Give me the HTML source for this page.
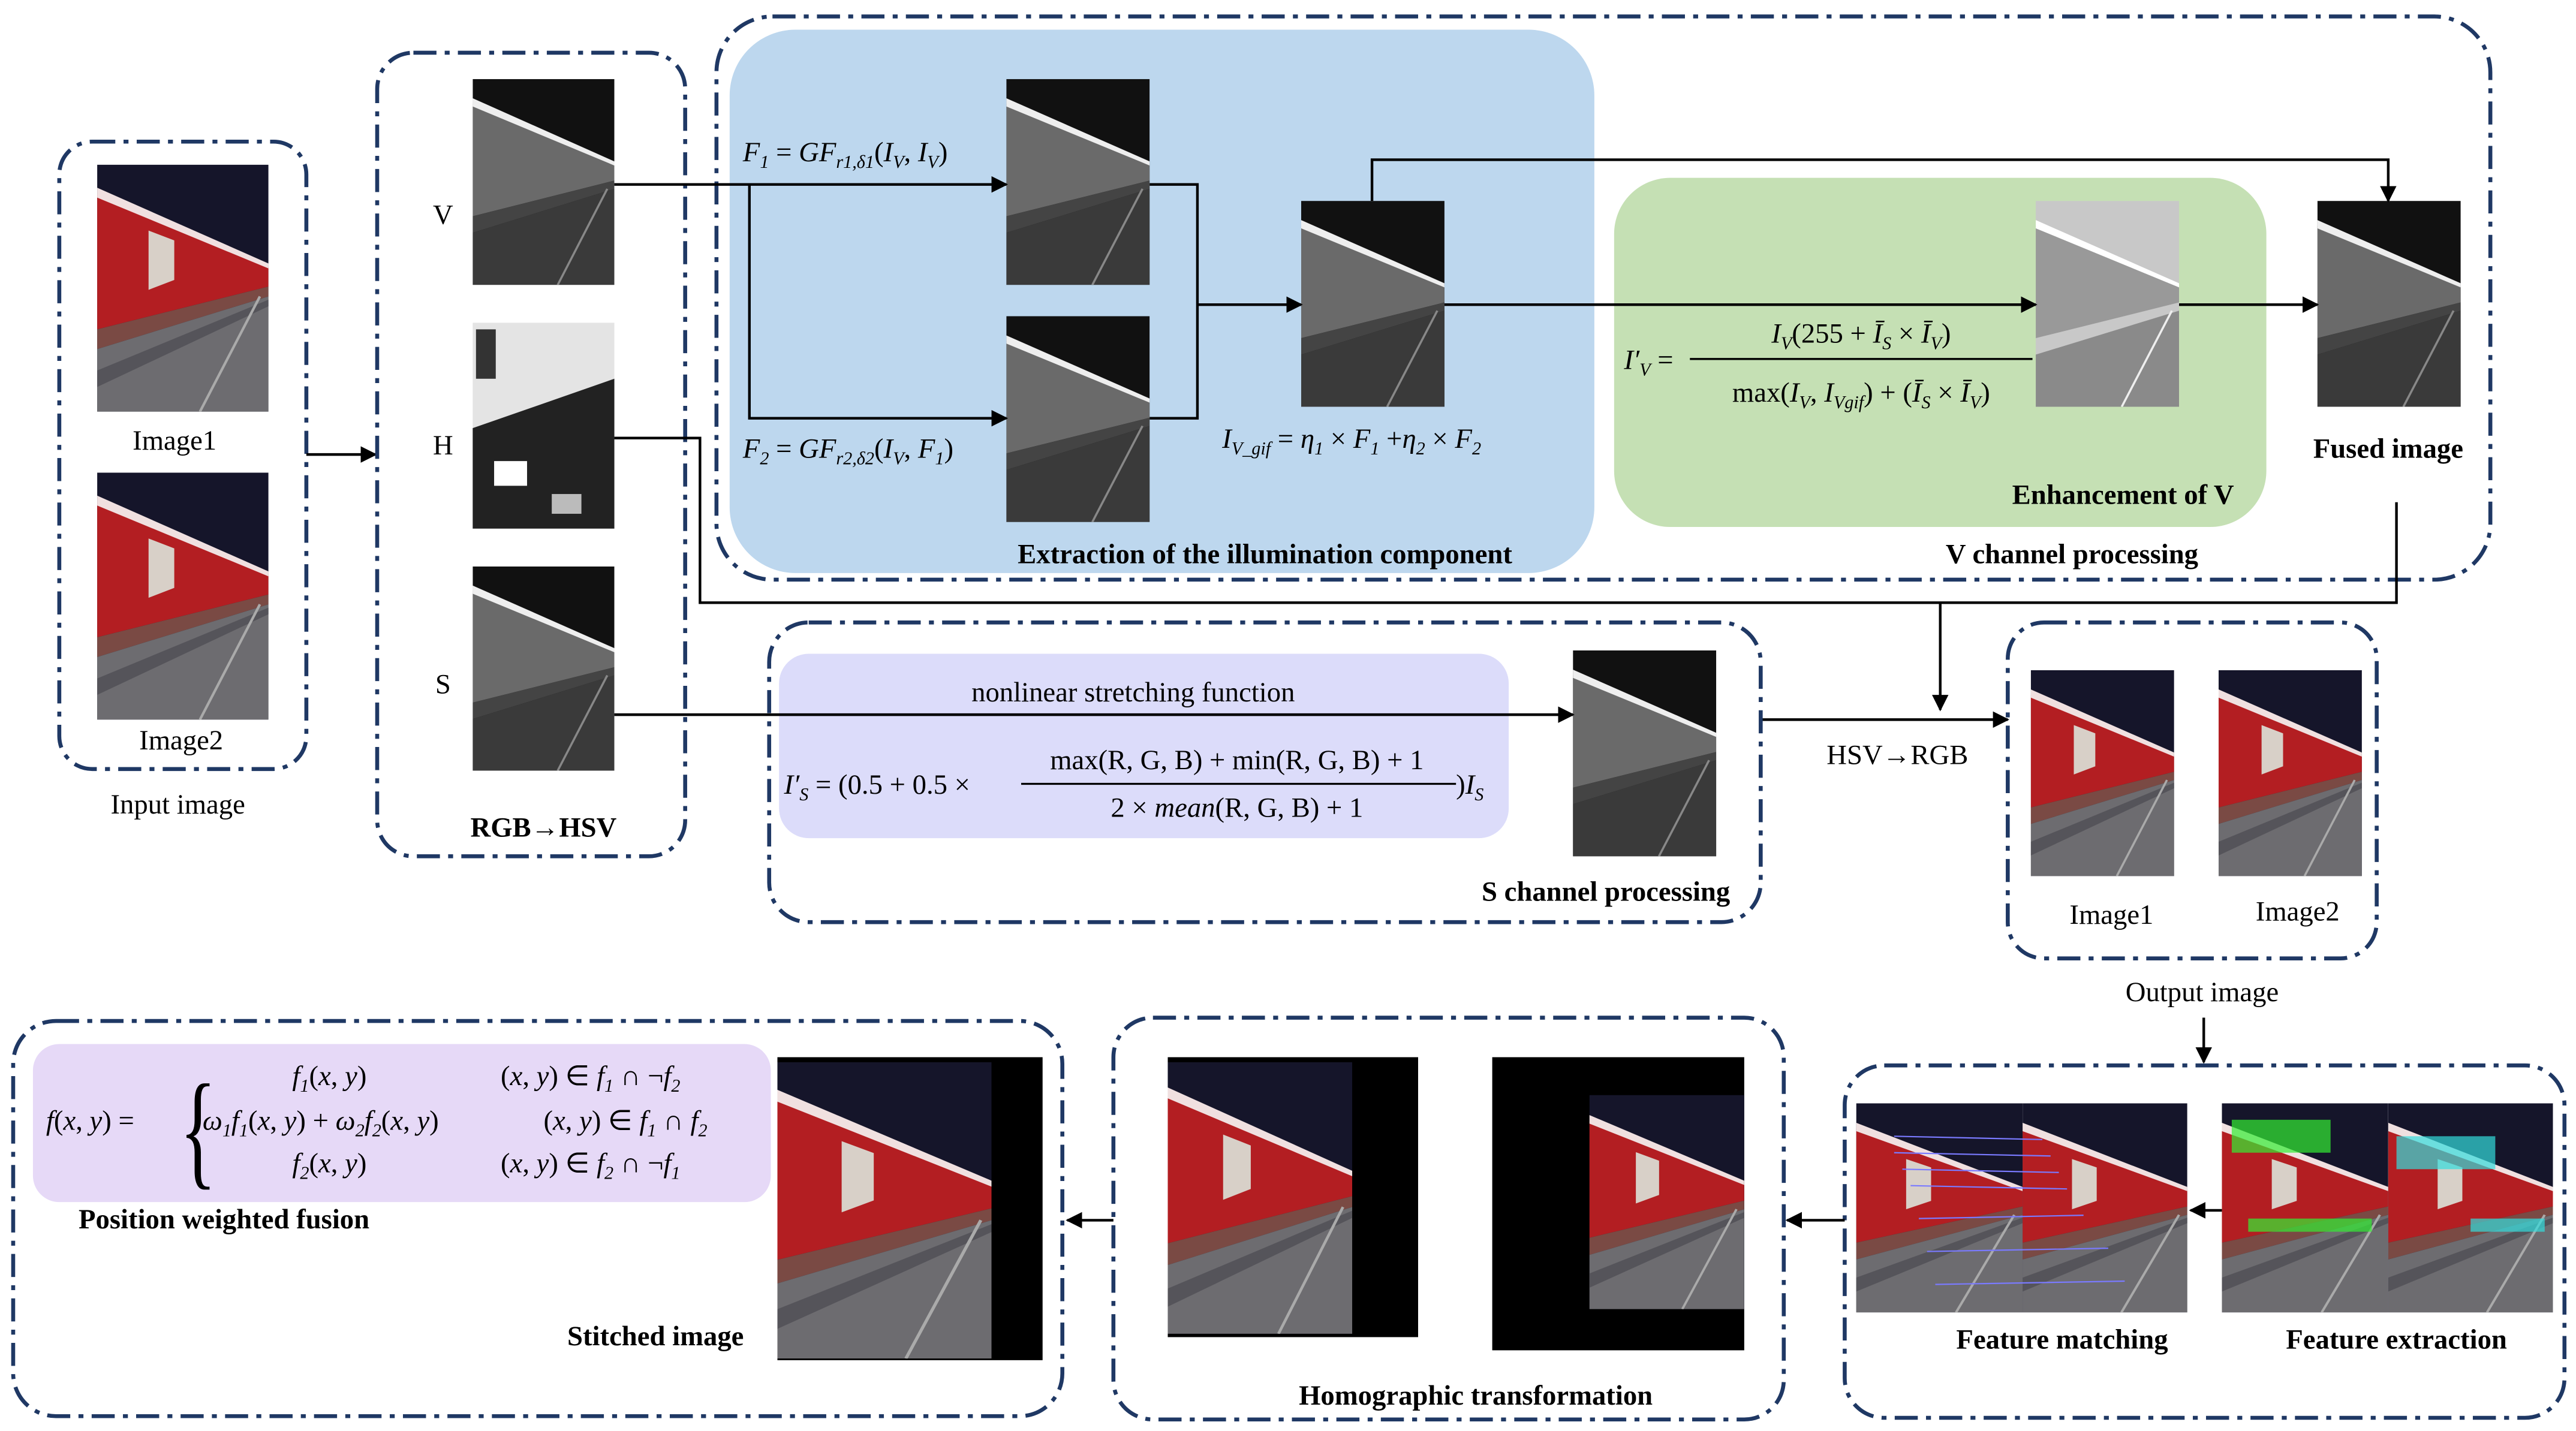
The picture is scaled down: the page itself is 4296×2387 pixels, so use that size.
<!DOCTYPE html>
<html><head><meta charset="utf-8"><style>
html,body{margin:0;padding:0;background:#fff}
svg{display:block}
text{font-family:"Liberation Serif",serif;fill:#000}
.b{font-weight:bold;font-size:17px}
.l{font-size:17px}
.m{font-size:17px;font-style:italic}
.box{fill:none;stroke:#1f3864;stroke-width:2.4;stroke-dasharray:14 5 3 5}
.ln{stroke:#000;stroke-width:1.6;fill:none}
</style></head><body>
<svg width="4296" height="2387" viewBox="0 0 1564 869" xmlns="http://www.w3.org/2000/svg">
<defs>
<marker id="a" markerWidth="10" markerHeight="10" refX="9" refY="5" orient="auto" markerUnits="userSpaceOnUse"><path d="M0,0 L10,5 L0,10 z" fill="#000"/></marker>
<symbol id="col" viewBox="0 0 100 150" preserveAspectRatio="none">
<rect width="100" height="150" fill="#15152a"/>
<polygon points="0,18 100,62 100,74 0,100" fill="#b31e22"/>
<polygon points="0,14 100,60 100,63 0,20" fill="#f0e0e0"/>
<polygon points="30,40 45,46 45,70 30,76" fill="#d8d0c8"/>
<polygon points="0,100 100,74 100,80 0,112" fill="#7a4a44"/>
<polygon points="0,112 100,80 100,150 0,150" fill="#6d6c70"/>
<polygon points="0,125 100,82 100,86 0,135" fill="#55545a"/>
<line x1="60" y1="150" x2="95" y2="80" stroke="#aaa" stroke-width="1.5"/>
</symbol>
<symbol id="gray" viewBox="0 0 100 150" preserveAspectRatio="none">
<rect width="100" height="150" fill="#111"/>
<polygon points="0,18 100,62 100,74 0,100" fill="#6a6a6a"/>
<polygon points="0,14 100,60 100,63 0,20" fill="#eee"/>
<polygon points="0,100 100,74 100,80 0,112" fill="#444"/>
<polygon points="0,112 100,80 100,150 0,150" fill="#3a3a3a"/>
<line x1="60" y1="150" x2="95" y2="80" stroke="#888" stroke-width="1.5"/>
</symbol>
<symbol id="light" viewBox="0 0 100 150" preserveAspectRatio="none">
<rect width="100" height="150" fill="#c8c8c8"/>
<polygon points="0,18 100,62 100,74 0,100" fill="#999"/>
<polygon points="0,14 100,60 100,63 0,20" fill="#fff"/>
<polygon points="0,112 100,80 100,150 0,150" fill="#8a8a8a"/>
<line x1="60" y1="150" x2="95" y2="80" stroke="#eee" stroke-width="1.5"/>
</symbol>
</defs>

<!-- Input -->
<rect class="box" x="36" y="86" width="150" height="381" rx="20"/>
<use href="#col" x="59" y="100" width="104" height="150"/>
<use href="#col" x="59" y="287" width="104" height="150"/>
<text class="l" x="106" y="273" text-anchor="middle">Image1</text>
<text class="l" x="110" y="455" text-anchor="middle">Image2</text>
<text class="l" x="108" y="494" text-anchor="middle">Input image</text>
<line class="ln" x1="186" y1="276" x2="228" y2="276" marker-end="url(#a)"/>

<!-- RGB->HSV -->
<rect class="box" x="229" y="32" width="187" height="488" rx="22"/>
<use href="#gray" x="287" y="48" width="86" height="125"/>
<rect x="287" y="196" width="86" height="125" fill="#e4e4e4"/>
<polygon points="287,260 373,230 373,321 287,321" fill="#222"/>
<rect x="300" y="280" width="20" height="15" fill="#fff"/><rect x="335" y="300" width="18" height="12" fill="#bbb"/><rect x="289" y="200" width="12" height="30" fill="#333"/>
<use href="#gray" x="287" y="344" width="86" height="124"/>
<text class="l" x="269" y="136" text-anchor="middle">V</text>
<text class="l" x="269" y="276" text-anchor="middle">H</text>
<text class="l" x="269" y="421" text-anchor="middle">S</text>
<text class="b" x="330" y="508" text-anchor="middle">RGB→HSV</text>

<!-- V channel -->
<rect class="box" x="435" y="10" width="1077" height="342" rx="34"/>
<rect x="443" y="18" width="525" height="330" rx="40" fill="#bdd7ee"/>
<rect x="980" y="108" width="396" height="212" rx="34" fill="#c5e0b4"/>
<use href="#gray" x="611" y="48" width="87" height="125"/>
<use href="#gray" x="611" y="192" width="87" height="125"/>
<use href="#gray" x="790" y="122" width="87" height="125"/>
<use href="#light" x="1236" y="122" width="87" height="125"/>
<use href="#gray" x="1407" y="122" width="87" height="125"/>
<line class="ln" x1="373" y1="112" x2="611" y2="112" marker-end="url(#a)"/>
<polyline class="ln" points="455,112 455,254 611,254" marker-end="url(#a)"/>
<polyline class="ln" points="698,112 727,112 727,254 698,254"/>
<line class="ln" x1="727" y1="185" x2="790" y2="185" marker-end="url(#a)"/>
<polyline class="ln" points="833,122 833,97 1450,97 1450,122" marker-end="url(#a)"/>
<line class="ln" x1="877" y1="185" x2="1236" y2="185" marker-end="url(#a)"/>
<line class="ln" x1="1323" y1="185" x2="1407" y2="185" marker-end="url(#a)"/>
<text class="m" x="451" y="98">F<tspan font-size="11" dy="4">1</tspan><tspan dy="-4" font-style="normal"> = </tspan>GF<tspan font-size="11" dy="4">r1,δ1</tspan><tspan dy="-4" font-style="normal">(</tspan>I<tspan font-size="11" dy="4">V</tspan><tspan dy="-4" font-style="normal">, </tspan>I<tspan font-size="11" dy="4">V</tspan><tspan dy="-4" font-style="normal">)</tspan></text>
<text class="m" x="451" y="278">F<tspan font-size="11" dy="4">2</tspan><tspan dy="-4" font-style="normal"> = </tspan>GF<tspan font-size="11" dy="4">r2,δ2</tspan><tspan dy="-4" font-style="normal">(</tspan>I<tspan font-size="11" dy="4">V</tspan><tspan dy="-4" font-style="normal">, </tspan>F<tspan font-size="11" dy="4">1</tspan><tspan dy="-4" font-style="normal">)</tspan></text>
<text class="m" x="742" y="272">I<tspan font-size="11" dy="4">V_gif</tspan><tspan dy="-4" font-style="normal"> = </tspan>η<tspan font-size="11" dy="4">1</tspan><tspan dy="-4" font-style="normal"> × </tspan>F<tspan font-size="11" dy="4">1</tspan><tspan dy="-4" font-style="normal"> +</tspan>η<tspan font-size="11" dy="4">2</tspan><tspan dy="-4" font-style="normal"> × </tspan>F<tspan font-size="11" dy="4">2</tspan></text>
<text class="b" x="768" y="342" text-anchor="middle">Extraction of the illumination component</text>
<text class="m" x="986" y="224">I′<tspan font-size="11" dy="4">V</tspan><tspan dy="-4" font-style="normal"> =</tspan></text>
<line x1="1026" y1="218" x2="1234" y2="218" stroke="#000" stroke-width="1.2"/>
<text class="m" x="1130" y="208" text-anchor="middle">I<tspan font-size="11" dy="4">V</tspan><tspan dy="-4" font-style="normal">(255 + </tspan>Ī<tspan font-size="11" dy="4">S</tspan><tspan dy="-4" font-style="normal"> × </tspan>Ī<tspan font-size="11" dy="4">V</tspan><tspan dy="-4" font-style="normal">)</tspan></text>
<text class="m" x="1130" y="244" text-anchor="middle"><tspan font-style="normal">max(</tspan>I<tspan font-size="11" dy="4">V</tspan><tspan dy="-4" font-style="normal">, </tspan>I<tspan font-size="11" dy="4">Vgif</tspan><tspan dy="-4" font-style="normal">) + (</tspan>Ī<tspan font-size="11" dy="4">S</tspan><tspan dy="-4" font-style="normal"> × </tspan>Ī<tspan font-size="11" dy="4">V</tspan><tspan dy="-4" font-style="normal">)</tspan></text>
<text class="b" x="1289" y="306" text-anchor="middle">Enhancement of V</text>
<text class="b" x="1258" y="342" text-anchor="middle">V channel processing</text>
<text class="b" x="1450" y="278" text-anchor="middle">Fused image</text>

<!-- H / fused join lines -->
<polyline class="ln" points="373,266 425,266 425,366 1455,366 1455,305"/>
<line class="ln" x1="1178" y1="366" x2="1178" y2="431" marker-end="url(#a)"/>
<line class="ln" x1="1070" y1="437" x2="1219" y2="437" marker-end="url(#a)"/>
<text class="l" x="1152" y="464" text-anchor="middle">HSV→RGB</text>

<!-- S channel -->
<rect class="box" x="467" y="378" width="602" height="182" rx="24"/>
<rect x="473" y="397" width="443" height="112" rx="18" fill="#dcdcfa"/>
<use href="#gray" x="955" y="395" width="87" height="125"/>
<line class="ln" x1="373" y1="434" x2="955" y2="434" marker-end="url(#a)"/>
<text class="l" x="688" y="426" text-anchor="middle">nonlinear stretching function</text>
<text class="m" x="476" y="482">I′<tspan font-size="11" dy="4">S</tspan><tspan dy="-4" font-style="normal"> = (0.5 + 0.5 ×</tspan></text>
<line x1="620" y1="476" x2="884" y2="476" stroke="#000" stroke-width="1.2"/>
<text class="l" x="751" y="467" text-anchor="middle">max(R, G, B) + min(R, G, B) + 1</text>
<text class="l" x="751" y="496" text-anchor="middle">2 × <tspan font-style="italic">mean</tspan>(R, G, B) + 1</text>
<text class="m" x="884" y="482"><tspan font-style="normal">)</tspan>I<tspan font-size="11" dy="4">S</tspan></text>
<text class="b" x="975" y="547" text-anchor="middle">S channel processing</text>

<!-- Output -->
<rect class="box" x="1219" y="378" width="224" height="204" rx="22"/>
<use href="#col" x="1233" y="407" width="87" height="125"/>
<use href="#col" x="1347" y="407" width="87" height="125"/>
<text class="l" x="1282" y="561" text-anchor="middle">Image1</text>
<text class="l" x="1395" y="559" text-anchor="middle">Image2</text>
<text class="l" x="1337" y="608" text-anchor="middle">Output image</text>
<line class="ln" x1="1338" y1="618" x2="1338" y2="645" marker-end="url(#a)"/>

<!-- Feature -->
<rect class="box" x="1120" y="647" width="437" height="214" rx="24"/>
<use href="#col" x="1127" y="670" width="101" height="127"/>
<use href="#col" x="1228" y="670" width="100" height="127"/>
<g stroke="#7a7aff" stroke-width="0.8">
<line x1="1150" y1="690" x2="1240" y2="692"/><line x1="1150" y1="700" x2="1245" y2="702"/><line x1="1155" y1="710" x2="1250" y2="712"/><line x1="1160" y1="720" x2="1255" y2="722"/><line x1="1165" y1="740" x2="1265" y2="738"/><line x1="1170" y1="760" x2="1280" y2="758"/><line x1="1175" y1="780" x2="1290" y2="778"/></g>
<use href="#col" x="1349" y="670" width="101" height="127"/>
<use href="#col" x="1450" y="670" width="100" height="127"/>
<g fill="#33ee33"><rect x="1355" y="680" width="60" height="20" opacity=".7"/><rect x="1365" y="740" width="75" height="8" opacity=".7"/></g>
<g fill="#33dddd"><rect x="1455" y="690" width="60" height="20" opacity=".7"/><rect x="1500" y="740" width="45" height="8" opacity=".7"/></g>
<line class="ln" x1="1349" y1="735" x2="1330" y2="735" marker-end="url(#a)"/>
<text class="b" x="1252" y="819" text-anchor="middle">Feature matching</text>
<text class="b" x="1455" y="819" text-anchor="middle">Feature extraction</text>
<line class="ln" x1="1120" y1="741" x2="1085" y2="741" marker-end="url(#a)"/>

<!-- Homographic -->
<rect class="box" x="676" y="618" width="407" height="244" rx="24"/>
<rect x="709" y="642" width="152" height="170" fill="#000"/>
<use href="#col" x="709" y="645" width="112" height="165"/>
<rect x="906" y="642" width="153" height="178" fill="#000"/>
<use href="#col" x="965" y="665" width="94" height="130"/>
<text class="b" x="896" y="853" text-anchor="middle">Homographic transformation</text>
<line class="ln" x1="676" y1="741" x2="648" y2="741" marker-end="url(#a)"/>

<!-- Stitching -->
<rect class="box" x="8" y="620" width="637" height="240" rx="26"/>
<rect x="20" y="634" width="448" height="96" rx="16" fill="#e6d9f7"/>
<rect x="472" y="642" width="161" height="184" fill="#000"/>
<use href="#col" x="472" y="645" width="130" height="180"/>
<text class="m" x="28" y="686">f<tspan font-style="normal">(</tspan>x<tspan font-style="normal">, </tspan>y<tspan font-style="normal">) =</tspan></text>
<text x="109" y="712" font-size="78" font-family="Liberation Serif" transform="scale(0.6,1)" style="transform-origin:109px 712px">{</text>
<text class="m" x="200" y="659" text-anchor="middle">f<tspan font-size="11" dy="4">1</tspan><tspan dy="-4" font-style="normal">(</tspan>x<tspan font-style="normal">, </tspan>y<tspan font-style="normal">)</tspan></text>
<text class="m" x="123" y="686">ω<tspan font-size="11" dy="4">1</tspan><tspan dy="-4">f</tspan><tspan font-size="11" dy="4">1</tspan><tspan dy="-4" font-style="normal">(</tspan>x<tspan font-style="normal">, </tspan>y<tspan font-style="normal">) + </tspan>ω<tspan font-size="11" dy="4">2</tspan><tspan dy="-4">f</tspan><tspan font-size="11" dy="4">2</tspan><tspan dy="-4" font-style="normal">(</tspan>x<tspan font-style="normal">, </tspan>y<tspan font-style="normal">)</tspan></text>
<text class="m" x="200" y="712" text-anchor="middle">f<tspan font-size="11" dy="4">2</tspan><tspan dy="-4" font-style="normal">(</tspan>x<tspan font-style="normal">, </tspan>y<tspan font-style="normal">)</tspan></text>
<text class="m" x="304" y="659"><tspan font-style="normal">(</tspan>x<tspan font-style="normal">, </tspan>y<tspan font-style="normal">) ∈ </tspan>f<tspan font-size="11" dy="4">1</tspan><tspan dy="-4" font-style="normal"> ∩ ¬</tspan>f<tspan font-size="11" dy="4">2</tspan></text>
<text class="m" x="330" y="686"><tspan font-style="normal">(</tspan>x<tspan font-style="normal">, </tspan>y<tspan font-style="normal">) ∈ </tspan>f<tspan font-size="11" dy="4">1</tspan><tspan dy="-4" font-style="normal"> ∩ </tspan>f<tspan font-size="11" dy="4">2</tspan></text>
<text class="m" x="304" y="712"><tspan font-style="normal">(</tspan>x<tspan font-style="normal">, </tspan>y<tspan font-style="normal">) ∈ </tspan>f<tspan font-size="11" dy="4">2</tspan><tspan dy="-4" font-style="normal"> ∩ ¬</tspan>f<tspan font-size="11" dy="4">1</tspan></text>
<text class="b" x="136" y="746" text-anchor="middle">Position weighted fusion</text>
<text class="b" x="398" y="817" text-anchor="middle">Stitched image</text>
</svg>
</body></html>
